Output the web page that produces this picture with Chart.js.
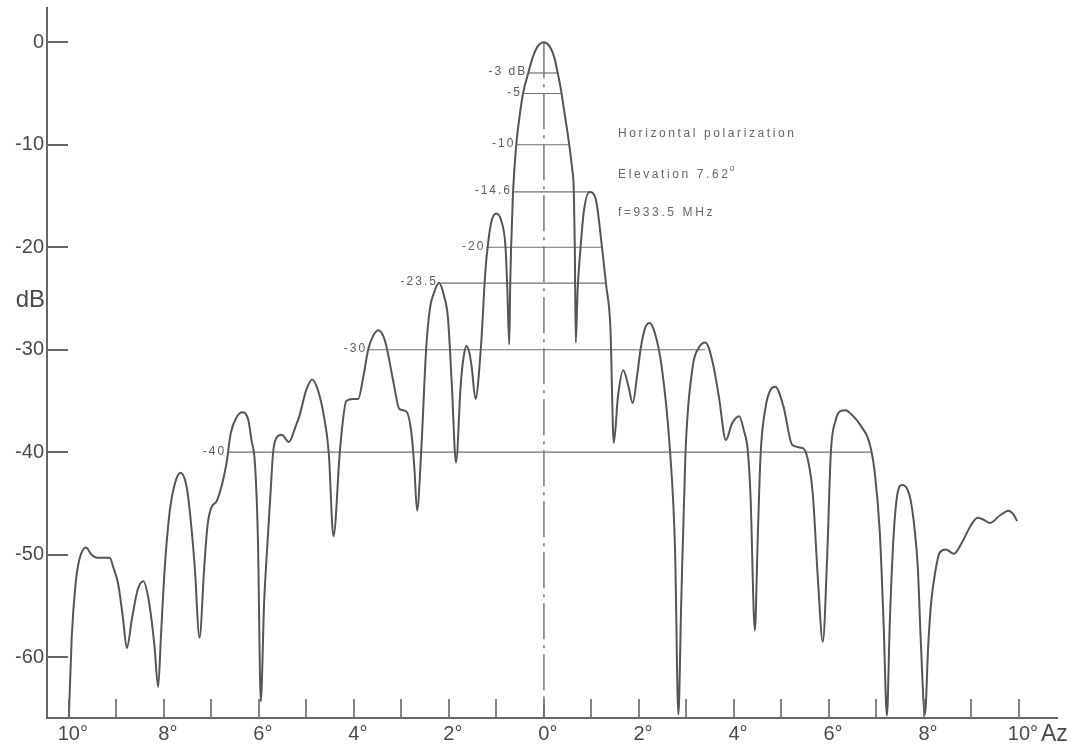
<!DOCTYPE html>
<html>
<head>
<meta charset="utf-8">
<title>Azimuth pattern - horizontal polarization</title>
<script src="https://cdn.jsdelivr.net/npm/chart.js@4.4.1/dist/chart.umd.min.js"></script>
<style>
  html, body { margin: 0; padding: 0; background: #fff; }
  #wrap { width: 1076px; height: 746px; }
</style>
</head>
<body>
<div id="wrap"><canvas id="pattern" width="1076" height="746"></canvas></div>
<script>
// azimuth in degrees (negative = left of boresight)
const azimuth = [
  -10, -9.94, -9.86, -9.78, -9.64, -9.52, -9.40, -9.14, -9.06, -8.96,
  -8.86, -8.78, -8.67, -8.55, -8.43, -8.31, -8.20, -8.12, -8.06, -7.98,
  -7.88, -7.77, -7.65, -7.52, -7.44, -7.35, -7.25, -7.15, -7.08, -7.00,
  -6.88, -6.69, -6.59, -6.47, -6.35, -6.22, -6.16, -6.08, -6.02, -5.96,
  -5.89, -5.85, -5.76, -5.70, -5.63, -5.52, -5.37, -5.22, -5.15, -5.00,
  -4.88, -4.76, -4.63, -4.53, -4.43, -4.29, -4.16, -4.02, -3.91, -3.80,
  -3.70, -3.59, -3.48, -3.37, -3.30, -3.17, -3.04, -2.90, -2.79, -2.73,
  -2.67, -2.58, -2.48, -2.40, -2.31, -2.21, -2.10, -2.02, -1.94, -1.85,
  -1.75, -1.69, -1.63, -1.56, -1.52, -1.44, -1.33, -1.23, -1.17, -1.10,
  -1.00, -0.90, -0.81, -0.77, -0.73, -0.71, -0.69, -0.65, -0.58, -0.52,
  -0.44, -0.33, -0.23, -0.13, 0, 0.12, 0.22, 0.29, 0.35, 0.43,
  0.53, 0.59, 0.63, 0.65, 0.67, 0.71, 0.76, 0.84, 0.96, 1.09,
  1.22, 1.31, 1.40, 1.47, 1.56, 1.67, 1.78, 1.87, 1.96, 2.04,
  2.13, 2.22, 2.33, 2.48, 2.65, 2.76, 2.83, 2.89, 2.98, 3.13,
  3.26, 3.40, 3.55, 3.68, 3.83, 3.96, 4.11, 4.21, 4.29, 4.35,
  4.44, 4.50, 4.56, 4.67, 4.77, 4.87, 5.04, 5.23, 5.45, 5.55,
  5.66, 5.77, 5.87, 5.96, 6.04, 6.14, 6.24, 6.35, 6.47, 6.59,
  6.71, 6.80, 6.88, 6.96, 7.07, 7.15, 7.22, 7.28, 7.35, 7.43,
  7.54, 7.65, 7.72, 7.80, 7.87, 7.93, 8.02, 8.09, 8.15, 8.24,
  8.33, 8.46, 8.63, 8.80, 8.98, 9.13, 9.26, 9.39, 9.59, 9.78,
  9.87, 9.96
];

// relative level in dB for each azimuth point
const gainDb = [
  -65.9, -58.1, -52.9, -50.5, -49.3, -50.0, -50.3, -50.3, -51.3, -52.9,
  -56.2, -59.1, -56.2, -53.4, -52.6, -54.7, -58.8, -62.9, -57.8, -51.2,
  -45.9, -43.1, -42.0, -43.4, -46.4, -51.2, -58.1, -51.2, -47.1, -45.4,
  -44.7, -41.3, -38.1, -36.6, -36.1, -36.9, -38.7, -41.3, -48.5, -64.3,
  -54.7, -51.2, -44.4, -40.0, -38.6, -38.3, -39.0, -37.4, -36.5, -33.9,
  -32.9, -33.9, -36.5, -40.0, -48.2, -39.6, -35.0, -34.8, -34.8, -32.6,
  -30.0, -28.6, -28.1, -28.8, -30.0, -33.1, -35.8, -36.0, -38.1, -41.3,
  -45.7, -39.6, -30.0, -26.0, -24.4, -23.5, -24.8, -26.9, -33.3, -41.0,
  -33.3, -30.7, -29.6, -30.5, -31.7, -34.8, -30.0, -22.2, -19.4, -17.4,
  -16.7, -17.4, -19.9, -24.1, -29.5, -23.7, -19.9, -14.6, -9.9, -7.5,
  -5.0, -3.0, -1.4, -0.4, 0, -0.4, -1.5, -3.0, -4.4, -6.8,
  -9.9, -12.2, -14.6, -19.9, -29.3, -24.1, -20.7, -16.5, -14.6, -15.3,
  -19.9, -23.7, -27.9, -39.1, -34.5, -32.0, -33.6, -35.2, -32.6, -29.8,
  -27.9, -27.4, -28.3, -31.7, -39.6, -49.5, -65.6, -54.7, -40.0, -31.7,
  -29.8, -29.3, -31.2, -34.5, -38.8, -37.2, -36.5, -37.9, -39.8, -44.4,
  -57.4, -48.5, -40.3, -35.5, -33.9, -33.6, -35.5, -39.3, -39.6, -40.6,
  -44.1, -52.6, -58.5, -50.5, -40.0, -36.9, -36.0, -35.9, -36.3, -36.9,
  -37.7, -38.4, -39.6, -41.8, -47.8, -56.7, -65.7, -56.7, -49.0, -44.4,
  -43.2, -43.6, -44.7, -47.4, -51.2, -58.1, -65.6, -58.8, -54.7, -51.6,
  -49.8, -49.5, -49.9, -48.8, -47.2, -46.4, -46.6, -46.9, -46.2, -45.7,
  -46.0, -46.7
];

// axis ticks
const xTicks = [-10, -9, -8, -7, -6, -5, -4, -3, -2, -1, 0, 1, 2, 3, 4, 5, 6, 7, 8, 9, 10];
const xTickLabels = ['10°', '', '8°', '', '6°', '', '4°', '', '2°', '', '0°', '', '2°', '', '4°', '', '6°', '', '8°', '', '10°'];
const yTicks = [-60, -50, -40, -30, -20, -10, 0];
const yTickLabels = ['-60', '-50', '-40', '-30', '-20', '-10', '0'];

// horizontal level markers (dB) and the azimuth span each one covers
const levelDb = [-3, -5, -10, -14.6, -20, -23.5, -30, -40];
const levelLabels = ['-3 dB', '-5', '-10', '-14.6', '-20', '-23.5', '-30', '-40'];
const levelFrom = [-0.33, -0.44, -0.58, -0.65, -1.21, -2.21, -3.70, -6.67];
const levelTo = [0.29, 0.37, 0.53, 0.96, 1.22, 1.29, 3.40, 6.88];

const notes = ['Horizontal polarization', 'Elevation 7.62', 'f=933.5 MHz'];

const X_MIN = -10.46, X_MAX = 10.8;
const Y_MIN = -65.93, Y_MAX = 3.34;
const FONT = "'Liberation Sans', Arial, sans-serif";
const INK = '#555';

const patternPoints = azimuth.map((a, i) => ({ x: a, y: gainDb[i] }));

const levelSets = levelDb.map((lv, i) => ({
    data: [{ x: levelFrom[i], y: lv }, { x: levelTo[i], y: lv }],
    showLine: true,
    borderColor: '#707070',
    borderWidth: 1.2,
    pointRadius: 0
}));

// tick marks inside the plot, labels and notes
const overlay = {
    id: 'overlay',
    afterDraw(chart) {
        const { ctx, chartArea: area, scales: { x, y } } = chart;
        ctx.save();

        ctx.strokeStyle = '#666';
        ctx.lineWidth = 2;
        ctx.beginPath();
        yTicks.forEach(v => {
            const py = Math.round(y.getPixelForValue(v));
            ctx.moveTo(area.left, py);
            ctx.lineTo(area.left + 21, py);
        });
        ctx.stroke();
        ctx.lineWidth = 1.6;
        ctx.beginPath();
        xTicks.forEach(v => {
            const px = Math.round(x.getPixelForValue(v));
            ctx.moveTo(px, area.bottom);
            ctx.lineTo(px, area.bottom - 19);
        });
        ctx.stroke();

        // level labels
        ctx.fillStyle = '#5c5c5c';
        ctx.font = '12px ' + FONT;
        ctx.letterSpacing = '2px';
        ctx.textAlign = 'right';
        ctx.textBaseline = 'middle';
        levelDb.forEach((lv, i) => {
            ctx.fillText(levelLabels[i], x.getPixelForValue(levelFrom[i]) - 1, y.getPixelForValue(lv) - 1);
        });

        // measurement notes
        ctx.fillStyle = '#666';
        ctx.font = '12px ' + FONT;
        ctx.letterSpacing = '2.6px';
        ctx.textAlign = 'left';
        const nx = x.getPixelForValue(1.56);
        const noteY = [-8.9, -12.9, -16.6];
        notes.forEach((t, i) => ctx.fillText(t, nx, y.getPixelForValue(noteY[i])));
        const w = ctx.measureText(notes[1]).width;
        ctx.font = '9px ' + FONT;
        ctx.fillText('o', nx + w - 1, y.getPixelForValue(noteY[1]) - 6);

        // axis names
        ctx.letterSpacing = '0px';
        ctx.fillStyle = '#4a4a4a';
        ctx.font = '24px ' + FONT;
        ctx.textAlign = 'right';
        ctx.fillText('dB', area.left - 2, y.getPixelForValue(-25.2));
        ctx.font = '23px ' + FONT;
        ctx.textAlign = 'left';
        ctx.textBaseline = 'top';
        ctx.fillText('Az', x.getPixelForValue(10) + 22, area.bottom + 5);

        ctx.restore();
    }
};

new Chart(document.getElementById('pattern'), {
    type: 'scatter',
    data: {
        datasets: [
            {
                data: patternPoints,
                showLine: true,
                borderColor: INK,
                borderWidth: 2,
                pointRadius: 0,
                cubicInterpolationMode: 'monotone'
            },
            {
                // boresight dash-dot line
                data: [{ x: 0, y: 0 }, { x: 0, y: Y_MIN }],
                showLine: true,
                borderColor: '#777',
                borderWidth: 1.5,
                borderDash: [36, 6, 3, 6],
                pointRadius: 0
            },
            ...levelSets
        ]
    },
    options: {
        responsive: false,
        animation: false,
        devicePixelRatio: 1,
        layout: { autoPadding: false, padding: { top: 8, right: 19, left: 0, bottom: 0 } },
        plugins: { legend: { display: false }, tooltip: { enabled: false } },
        scales: {
            x: {
                type: 'linear',
                min: X_MIN,
                max: X_MAX,
                afterFit: s => { s.height = 28; s.paddingLeft = 0; s.paddingRight = 0; },
                afterBuildTicks: s => { s.ticks = xTicks.map(v => ({ value: v })); },
                grid: { display: true, drawOnChartArea: false, drawTicks: false },
                border: { display: true, color: '#666', width: 2 },
                ticks: {
                    autoSkip: false,
                    maxRotation: 0,
                    padding: 4,
                    labelOffset: 4,
                    color: '#4a4a4a',
                    font: { family: FONT, size: 20 },
                    callback: v => xTickLabels[xTicks.indexOf(v)] ?? ''
                }
            },
            y: {
                type: 'linear',
                min: Y_MIN,
                max: Y_MAX,
                afterFit: s => { s.width = 47; s.paddingTop = 0; s.paddingBottom = 0; },
                afterBuildTicks: s => { s.ticks = yTicks.map(v => ({ value: v })); },
                grid: { display: true, drawOnChartArea: false, drawTicks: false },
                border: { display: true, color: '#666', width: 2 },
                ticks: {
                    autoSkip: false,
                    padding: 3,
                    color: '#4a4a4a',
                    font: { family: FONT, size: 20 },
                    callback: v => yTickLabels[yTicks.indexOf(v)] ?? ''
                }
            }
        }
    },
    plugins: [overlay]
});
</script>
</body>
</html>
